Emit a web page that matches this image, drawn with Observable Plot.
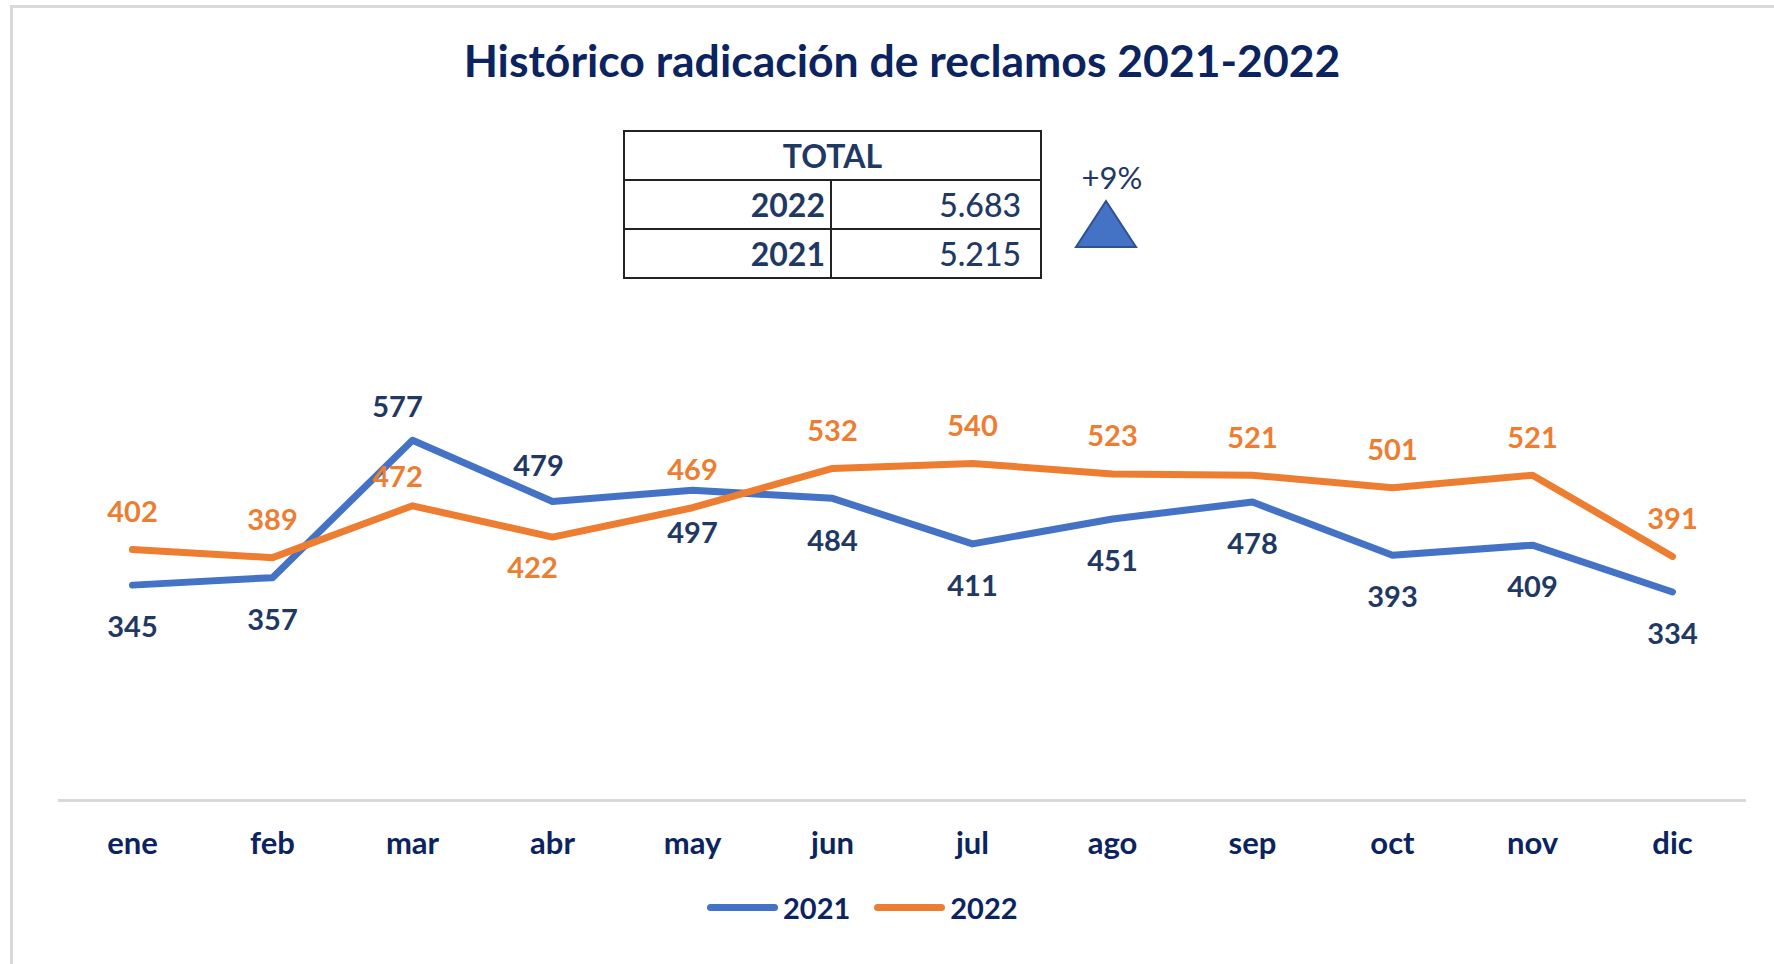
<!DOCTYPE html>
<html>
<head>
<meta charset="utf-8">
<script src="https://cdn.jsdelivr.net/npm/d3@7"></script>
<script src="https://cdn.jsdelivr.net/npm/@observablehq/plot@0.6"></script>
<style>
  html, body { margin: 0; padding: 0; background: #fff; }
  #wrap { position: relative; width: 1774px; height: 964px; overflow: hidden; font-family: Lato, "Open Sans", sans-serif; }
  #frame { position: absolute; left: 10px; top: 5px; width: 1800px; height: 1000px; border-top: 3px solid #d9d9d9; border-left: 3px solid #d9d9d9; }
  #title { position: absolute; left: 0; width: 1804px; top: 33px; text-align: center; font-size: 44.5px; font-weight: bold; color: #0b2460; white-space: nowrap; }
  #chart { position: absolute; left: 0; top: 0; }
  table.tot { position: absolute; left: 623px; top: 130px; width: 419px; border-collapse: collapse; color: #1f3864; font-size: 32px; }
  table.tot td { border: 2.5px solid #222; height: 47px; padding: 0; line-height: 1; }
  table.tot td.h { text-align: center; font-weight: bold; }
  table.tot td.y { text-align: right; width: 200px; padding-right: 5px; font-weight: bold; }
  table.tot td.v { text-align: right; padding-right: 19px; font-weight: 500; }
  #pct { position: absolute; left: 1062px; top: 158px; width: 100px; text-align: center; font-size: 31px; color: #1f3864; }
  #tri { position: absolute; left: 1070px; top: 198px; }
  #legend { position: absolute; top: 890px; left: 707px; display: flex; align-items: center; font-size: 29px; font-weight: bold; color: #0b2460; }
  .sw { display: inline-block; width: 71px; height: 7px; border-radius: 4px; margin-right: 5px; }
  .item { display: flex; align-items: center; margin-right: 24px; }
</style>
</head>
<body>
<div id="wrap">
  <div id="frame"></div>
  <div id="chart"></div>
  <div id="title"></div>
  <div id="pct"></div>
  <svg id="tri" width="72" height="56"><polygon points="36,3 6,49 66,49" fill="#4472C4" stroke="#2f528f" stroke-width="2"/></svg>
  <div id="legend"></div>
</div>
<script>
// ---- data ----
const titleText = "Histórico radicación de reclamos 2021-2022";
const months = ["ene","feb","mar","abr","may","jun","jul","ago","sep","oct","nov","dic"];
const series = ["2021","2022"];
const values2021 = [345, 357, 577, 479, 497, 484, 411, 451, 478, 393, 409, 334];
const values2022 = [402, 389, 472, 422, 469, 532, 540, 523, 521, 501, 521, 391];
const totalYears = ["2022", "2021"];
const totalValues = [5683, 5215];
const colors = ["#4472C4", "#ED7D31"];
const labelColors = ["#1f3864", "#ED7D31"];

// ---- build ----
document.getElementById("title").textContent = titleText;

const fmt = d3.formatLocale({decimal: ",", thousands: ".", grouping: [3], currency: ["", ""]}).format(",d");
const tbl = document.createElement("table");
tbl.className = "tot";
let html = '<tr><td class="h" colspan="2">TOTAL</td></tr>';
totalYears.forEach((y, i) => { html += `<tr><td class="y">${y}</td><td class="v">${fmt(totalValues[i])}</td></tr>`; });
tbl.innerHTML = html;
document.getElementById("wrap").appendChild(tbl);

const change = Math.round((totalValues[0] / totalValues[1] - 1) * 100);
document.getElementById("pct").textContent = (change >= 0 ? "+" : "") + change + "%";

const legend = document.getElementById("legend");
series.forEach((s, i) => {
  const it = document.createElement("div");
  it.className = "item";
  it.innerHTML = `<span class="sw" style="background:${colors[i]}"></span><span>${s}</span>`;
  legend.appendChild(it);
});

const data = months.flatMap((m, i) => [
  {month: m, year: "2021", value: values2021[i]},
  {month: m, year: "2022", value: values2022[i]}
]);

// label placement (annotation layout): default offsets per series, with manual overrides
const defaultOffset = {"2021": [0, 43], "2022": [0, -37]};
const overrides = {
  "2021|mar": [-15, -33],
  "2021|abr": [-14, -35],
  "2022|mar": [-15, -28],
  "2022|abr": [-20, 32]
};
const labelMarks = data.map(d => {
  const [dx, dy] = overrides[d.year + "|" + d.month] || defaultOffset[d.year];
  return Plot.text([d], {
    x: "month", y: "value", text: "value", dx, dy,
    fontSize: 29, fontWeight: "bold",
    fill: labelColors[series.indexOf(d.year)]
  });
});

const chart = Plot.plot({
  width: 1774,
  height: 964,
  marginTop: 363,
  marginBottom: 164,
  marginLeft: 58,
  marginRight: 28,
  style: {background: "transparent", fontFamily: "Lato, 'Open Sans', sans-serif"},
  x: {type: "band", domain: months, padding: 0, label: null},
  y: {domain: [0, 700], axis: null},
  color: {domain: series, range: colors},
  marks: [
    Plot.ruleY([0], {stroke: "#d9d9d9", strokeWidth: 3}),
    Plot.axisX({tickSize: 0, tickPadding: 31, fontSize: 31, fontWeight: "bold", color: "#0b2460", label: null}),
    Plot.line(data, {x: "month", y: "value", z: "year", stroke: "year", strokeWidth: 7, strokeLinecap: "round", strokeLinejoin: "round"}),
    ...labelMarks
  ]
});
document.getElementById("chart").appendChild(chart);
</script>
</body>
</html>
